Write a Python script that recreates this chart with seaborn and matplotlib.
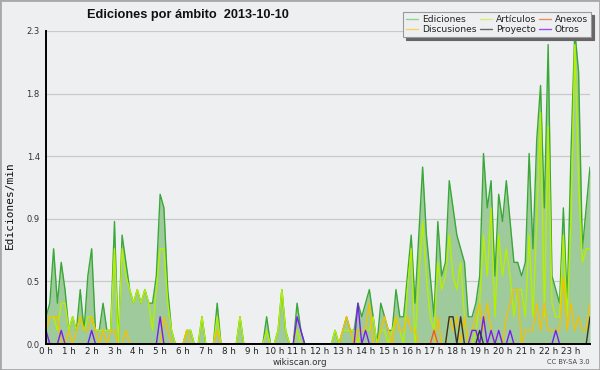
import numpy as np
import pandas as pd
import matplotlib
matplotlib.use("Agg")
import matplotlib.pyplot as plt
import seaborn as sns
from matplotlib.lines import Line2D
from matplotlib.patches import Rectangle
from matplotlib.ticker import FixedLocator, FormatStrFormatter

# --- data: edits per minute, one value per 10 minutes (6 per hour) ---
ediciones = [
    0.2, 0.3, 0.7, 0.3, 0.6, 0.4,  0.1, 0.2, 0.1, 0.4, 0.1, 0.5,
    0.7, 0.1, 0.1, 0.3, 0.1, 0.1,  0.9, 0.0, 0.8, 0.6, 0.4, 0.3,
    0.4, 0.3, 0.4, 0.3, 0.3, 0.5,  1.1, 1.0, 0.4, 0.1, 0.0, 0.0,
    0.0, 0.1, 0.1, 0.0, 0.0, 0.2,  0.0, 0.0, 0.0, 0.3, 0.0, 0.0,
    0.0, 0.0, 0.0, 0.2, 0.0, 0.0,  0.0, 0.0, 0.0, 0.0, 0.2, 0.0,
    0.0, 0.1, 0.4, 0.1, 0.0, 0.0,  0.3, 0.1, 0.0, 0.0, 0.0, 0.0,
    0.0, 0.0, 0.0, 0.0, 0.1, 0.0,  0.1, 0.2, 0.1, 0.1, 0.3, 0.2,
    0.3, 0.4, 0.2, 0.0, 0.3, 0.2,  0.1, 0.1, 0.4, 0.2, 0.2, 0.5,
    0.8, 0.3, 0.8, 1.3, 0.8, 0.5,  0.2, 0.9, 0.5, 0.6, 1.2, 1.0,
    0.8, 0.7, 0.6, 0.2, 0.2, 0.3,  0.5, 1.4, 1.0, 1.2, 0.5, 1.1,
    0.9, 1.2, 0.9, 0.6, 0.6, 0.5,  0.6, 1.4, 0.7, 1.5, 1.9, 1.0,
    2.2, 0.5, 0.4, 0.3, 1.0, 0.3,  1.4, 2.3, 2.0, 0.7, 1.0, 1.3,
]
articulos = [
    0.1, 0.2, 0.2, 0.1, 0.3, 0.3,  0.1, 0.2, 0.1, 0.2, 0.1, 0.2,
    0.2, 0.1, 0.1, 0.1, 0.1, 0.1,  0.7, 0.0, 0.7, 0.5, 0.4, 0.3,
    0.4, 0.3, 0.4, 0.3, 0.1, 0.4,  0.7, 0.7, 0.3, 0.1, 0.0, 0.0,
    0.0, 0.1, 0.1, 0.0, 0.0, 0.2,  0.0, 0.0, 0.0, 0.2, 0.0, 0.0,
    0.0, 0.0, 0.0, 0.2, 0.0, 0.0,  0.0, 0.0, 0.0, 0.0, 0.1, 0.0,
    0.0, 0.1, 0.4, 0.1, 0.0, 0.0,  0.1, 0.0, 0.0, 0.0, 0.0, 0.0,
    0.0, 0.0, 0.0, 0.0, 0.1, 0.0,  0.1, 0.1, 0.1, 0.1, 0.0, 0.1,
    0.1, 0.1, 0.2, 0.0, 0.1, 0.1,  0.0, 0.1, 0.2, 0.1, 0.0, 0.4,
    0.7, 0.0, 0.5, 0.9, 0.5, 0.2,  0.1, 0.6, 0.4, 0.5, 0.8, 0.5,
    0.4, 0.6, 0.2, 0.0, 0.0, 0.1,  0.3, 0.8, 0.5, 1.0, 0.2, 0.8,
    0.5, 0.7, 0.5, 0.2, 0.4, 0.4,  0.2, 0.8, 0.2, 0.9, 1.7, 0.2,
    1.6, 0.3, 0.2, 0.2, 0.8, 0.2,  0.9, 2.2, 1.2, 0.6, 0.7, 0.7,
]
discusiones = [
    0.1, 0.2, 0.2, 0.2, 0.0, 0.0,  0.1, 0.0, 0.1, 0.2, 0.1, 0.1,
    0.2, 0.1, 0.0, 0.1, 0.0, 0.1,  0.1, 0.0, 0.0, 0.1, 0.0, 0.0,
    0.0, 0.0, 0.0, 0.0, 0.0, 0.0,  0.0, 0.2, 0.1, 0.0, 0.0, 0.0,
    0.0, 0.1, 0.0, 0.0, 0.0, 0.0,  0.0, 0.0, 0.0, 0.1, 0.0, 0.0,
    0.0, 0.0, 0.0, 0.0, 0.0, 0.0,  0.0, 0.0, 0.0, 0.0, 0.0, 0.0,
    0.0, 0.0, 0.0, 0.0, 0.0, 0.0,  0.0, 0.0, 0.0, 0.0, 0.0, 0.0,
    0.0, 0.0, 0.0, 0.0, 0.0, 0.0,  0.1, 0.2, 0.1, 0.0, 0.1, 0.1,
    0.1, 0.3, 0.0, 0.0, 0.1, 0.2,  0.1, 0.0, 0.2, 0.1, 0.1, 0.2,
    0.1, 0.1, 0.0, 0.0, 0.0, 0.0,  0.0, 0.2, 0.0, 0.0, 0.2, 0.1,
    0.2, 0.0, 0.2, 0.0, 0.1, 0.2,  0.3, 0.1, 0.3, 0.1, 0.0, 0.0,
    0.0, 0.2, 0.3, 0.4, 0.4, 0.0,  0.1, 0.1, 0.1, 0.3, 0.1, 0.3,
    0.1, 0.1, 0.1, 0.1, 0.5, 0.1,  0.3, 0.1, 0.2, 0.1, 0.1, 0.3,
]
otros = [
    0.1, 0.0, 0.0, 0.0, 0.1, 0.0,  0.0, 0.0, 0.0, 0.0, 0.0, 0.0,
    0.1, 0.0, 0.0, 0.0, 0.0, 0.0,  0.0, 0.0, 0.0, 0.0, 0.0, 0.0,
    0.0, 0.0, 0.0, 0.0, 0.0, 0.0,  0.2, 0.0, 0.0, 0.0, 0.0, 0.0,
    0.0, 0.0, 0.0, 0.0, 0.0, 0.0,  0.0, 0.0, 0.0, 0.0, 0.0, 0.0,
    0.0, 0.0, 0.0, 0.0, 0.0, 0.0,  0.0, 0.0, 0.0, 0.0, 0.0, 0.0,
    0.0, 0.0, 0.0, 0.0, 0.0, 0.0,  0.2, 0.1, 0.0, 0.0, 0.0, 0.0,
    0.0, 0.0, 0.0, 0.0, 0.0, 0.0,  0.0, 0.0, 0.0, 0.0, 0.3, 0.0,
    0.1, 0.0, 0.0, 0.0, 0.0, 0.0,  0.0, 0.0, 0.0, 0.0, 0.0, 0.0,
    0.0, 0.0, 0.0, 0.0, 0.0, 0.0,  0.0, 0.0, 0.0, 0.0, 0.0, 0.0,
    0.0, 0.0, 0.0, 0.0, 0.1, 0.1,  0.0, 0.2, 0.0, 0.1, 0.0, 0.1,
    0.0, 0.0, 0.1, 0.0, 0.0, 0.0,  0.0, 0.0, 0.0, 0.0, 0.0, 0.0,
    0.0, 0.0, 0.1, 0.0, 0.0, 0.0,  0.0, 0.0, 0.0, 0.0, 0.0, 0.0,
]
proyecto = [0.0] * 102 + [
    0.0, 0.0, 0.0, 0.0, 0.2, 0.2,
    0.0, 0.2, 0.0, 0.0, 0.0, 0.0,  0.1, 0.0, 0.0, 0.0, 0.0, 0.0,
] + [0.0] * 23 + [0.2]
anexos = [0.0] * 102 + [0.1] + [0.0] * 41

series_names = ["Ediciones", "Artículos", "Discusiones", "Otros", "Proyecto", "Anexos"]
series_values = [ediciones, articulos, discusiones, otros, proyecto, anexos]
hour_labels = [f"{h} h" for h in range(24)]

line_colors = {
    "Ediciones": "#3aa838",
    "Artículos": "#b4f000",
    "Discusiones": "#f2c200",
    "Otros": "#7a1cf0",
    "Proyecto": "#333333",
    "Anexos": "#f05a28",
}
legend_colors = {
    "Ediciones": "#8fd48c",
    "Discusiones": "#f5d55a",
    "Artículos": "#d4f070",
    "Proyecto": "#666666",
    "Anexos": "#f08a60",
    "Otros": "#9a4cf5",
}
bg = "#eeeff1"

hora = np.arange(len(ediciones)) / 6.0
rows = []
for name, vals in zip(series_names, series_values):
    for h, v in zip(hora, vals):
        rows.append((h, name, v))
df = pd.DataFrame(rows, columns=["hora", "serie", "valor"])

sns.set_style("white", {"axes.facecolor": bg, "figure.facecolor": bg})
plt.rcParams["font.family"] = ["DejaVu Sans"]

fig = plt.figure(figsize=(6.0, 3.7), dpi=100)
ax = fig.add_axes([46 / 600, 26 / 370, 544 / 600, 313 / 370])

ymax = max(ediciones)
ax.fill_between(hora, ediciones, color="#9fcb9c", lw=0, zorder=1)
sns.lineplot(data=df, x="hora", y="valor", hue="serie", hue_order=series_names,
             palette=line_colors, linewidth=1.0, legend=False, ax=ax, zorder=2)

ax.set_xlim(0, hora[-1])
ax.set_ylim(0, ymax)
ax.set_xlabel("")
ax.set_ylabel("")

yt = np.linspace(0, ymax, 6)
ax.yaxis.set_major_locator(FixedLocator(yt))
ax.yaxis.set_minor_locator(FixedLocator(np.linspace(0, ymax, 21)))
ax.yaxis.set_major_formatter(FormatStrFormatter("%.1f"))
ax.set_xticks(np.arange(24))
ax.set_xticklabels(hour_labels)
ax.xaxis.set_minor_locator(FixedLocator(hora))
ax.grid(axis="y", color="#c9c9c9", lw=0.9)
ax.set_axisbelow(True)

for s in ["top", "right"]:
    ax.spines[s].set_visible(False)
for s in ["left", "bottom"]:
    ax.spines[s].set_color("black")
    ax.spines[s].set_linewidth(1.4)
ax.tick_params(axis="x", which="both", direction="out", length=2.2, width=0.9,
               color="black", labelsize=6.3, pad=0.3, labelcolor="#222222")
ax.tick_params(axis="y", which="major", direction="out", length=3.5, width=0.9,
               labelsize=6, pad=1.0, labelcolor="#333333")
ax.tick_params(axis="y", which="minor", direction="out", length=2.5, width=0.8)

fig.text(188 / 600, 1 - 15 / 370, "Ediciones por ámbito  2013-10-10",
         ha="center", va="center", fontsize=9.2, fontweight="bold",
         family=["Liberation Sans", "DejaVu Sans"], color="#111111")
fig.text(10 / 600, 1 - 205 / 370, "Ediciones/min", rotation=90, ha="center",
         va="center", fontsize=8, family=["DejaVu Sans Mono"], color="#111111")
fig.text(0.5, 1 - 362.5 / 370, "wikiscan.org", ha="center", va="center",
         fontsize=6.3, color="#333333")
fig.text(590 / 600, 1 - 362.5 / 370, "CC BY-SA 3.0", ha="right", va="center",
         fontsize=4.8, color="#444444")

order = ["Ediciones", "Discusiones", "Artículos", "Proyecto", "Anexos", "Otros"]
handles = [Line2D([], [], color=legend_colors[n], lw=1.0) for n in order]
leg = fig.legend(handles, order, loc="upper right",
                 bbox_to_anchor=(591 / 600, 1 - 12 / 370), ncol=3,
                 fontsize=6.6, frameon=True, fancybox=False,
                 shadow={"color": "#666666", "alpha": 1.0},
                 handlelength=1.3, handletextpad=0.45, columnspacing=0.3,
                 labelspacing=0.1, borderpad=0.35, borderaxespad=0.0)
leg.get_frame().set_edgecolor("#999999")
leg.get_frame().set_linewidth(0.8)
leg.get_frame().set_alpha(1.0)
for t in leg.get_texts():
    t.set_color("#222222")

fig.patches.append(Rectangle((0, 0), 1, 1, transform=fig.transFigure, fill=False,
                             edgecolor="#a8a8a8", lw=2.0, zorder=10))

fig.savefig("out.png", dpi=100, facecolor=bg)
